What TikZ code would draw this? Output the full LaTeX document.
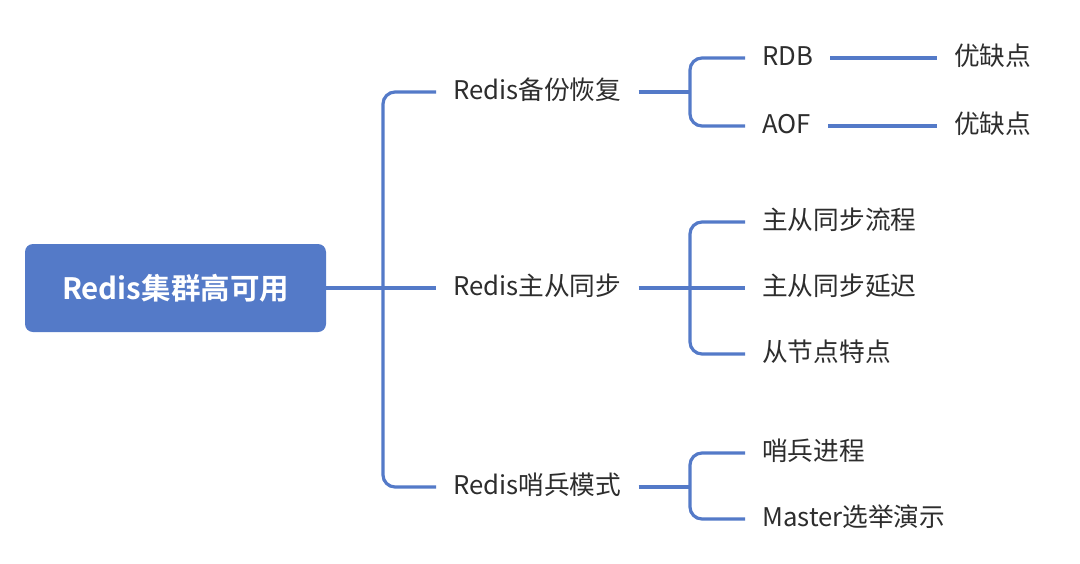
\documentclass[tikz,border=0pt]{standalone}
\usepackage{fontspec}
\setmainfont{Noto Sans CJK SC}[BoldFont={Noto Sans CJK SC Bold}]
\definecolor{mblue}{RGB}{84,122,200}
\definecolor{mtext}{RGB}{45,45,45}
\tikzset{
  link/.style={draw=mblue, line width=3.2pt, rounded corners=12pt},
  topic/.style={inner xsep=17pt, inner ysep=0pt, text height=1.55em, text depth=0em, font=\fontsize{25.7}{30}\selectfont, text=mtext},
  rootbox/.style={fill=mblue, rounded corners=8pt, minimum width=301pt, minimum height=88pt, text=white, font=\fontsize{29.5}{34}\selectfont\bfseries}
}
\begin{document}
\begin{tikzpicture}[x=1pt,y=-1pt]
\useasboundingbox[fill=white] (0,0) rectangle (1080,563);
\node[rootbox] (root) at (175.5,288) {Redis集群高可用};
% level 1
\node[topic, anchor=west] (b1) at (436,92) {Redis备份恢复};
\node[topic, anchor=west] (b2) at (436,288) {Redis主从同步};
\node[topic, anchor=west] (b3) at (436,487) {Redis哨兵模式};
\coordinate (t) at (383,288);
\draw[link] (b1.west) -| (t) |- (b3.west);
\draw[link] (root.east) -- (b2.west);
% level 2 : backup
\node[topic, anchor=west] (c1) at (745,58) {RDB};
\node[topic, anchor=west] (c2) at (745,126) {AOF};
\coordinate (s1) at (690,92);
\draw[link] (b1.east) -- (s1);
\draw[link] (c1.west) -| (s1) |- (c2.west);
\node[topic, anchor=west] (d1) at (937,58) {优缺点};
\node[topic, anchor=west] (d2) at (937,126) {优缺点};
\draw[link] (c1.east) -- (d1.west);
\draw[link] (c2.east) -- (d2.west);
% level 2 : replication
\node[topic, anchor=west] (c3) at (745,222) {主从同步流程};
\node[topic, anchor=west] (c4) at (745,288) {主从同步延迟};
\node[topic, anchor=west] (c5) at (745,354) {从节点特点};
\coordinate (s2) at (690,288);
\draw[link] (b2.east) -- (c4.west);
\draw[link] (c3.west) -| (s2) |- (c5.west);
% level 2 : sentinel
\node[topic, anchor=west] (c6) at (745,453) {哨兵进程};
\node[topic, anchor=west] (c7) at (745,519) {Master选举演示};
\coordinate (s3) at (690,487);
\draw[link] (b3.east) -- (s3);
\draw[link] (c6.west) -| (s3) |- (c7.west);
\end{tikzpicture}
\end{document}
